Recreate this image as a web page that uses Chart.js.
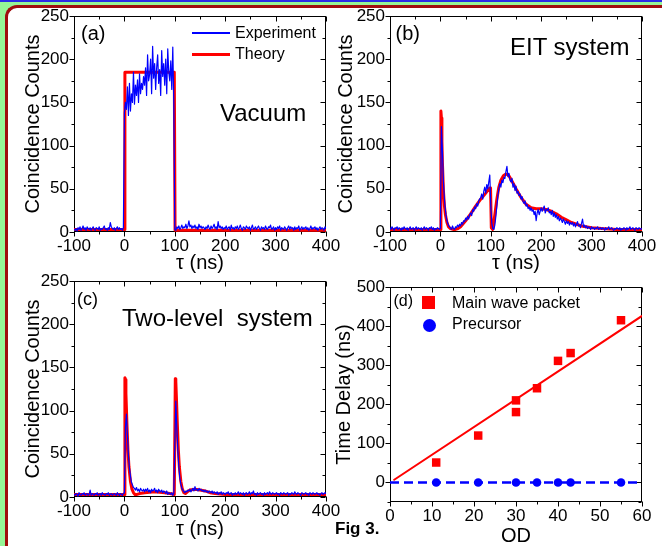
<!DOCTYPE html>
<html><head><meta charset="utf-8">
<script src="https://cdn.jsdelivr.net/npm/chart.js@4.4.1/dist/chart.umd.min.js"></script>
<style>
html,body{margin:0;padding:0;}
body{width:662px;height:546px;overflow:hidden;position:relative;background:#96f596;font-family:"Liberation Sans",Arial,sans-serif;}
#topline{position:absolute;left:0;top:0;width:662px;height:2px;background:#2b2be6;}
#sheet{position:absolute;left:5px;top:4.5px;width:700px;height:600px;background:#fff;border-left:3px solid #a00d0d;border-top:3px solid #a00d0d;border-top-left-radius:12px;}
canvas{position:absolute;left:0;top:0;}
.t{position:absolute;white-space:pre;line-height:1;color:#000;}
.sw{position:absolute;}
</style></head><body>
<div id="topline"></div>
<div id="sheet"></div>
<canvas id="ca" width="662" height="546"></canvas>
<canvas id="cb" width="662" height="546"></canvas>
<canvas id="cc" width="662" height="546"></canvas>
<canvas id="cd" width="662" height="546"></canvas>

<div class="t" style="left:81px;top:22.5px;font-size:20px">(a)</div>
<div class="sw" style="left:192px;top:32.3px;width:38px;height:1.5px;background:#0000ff"></div>
<div class="t" style="left:235px;top:25.3px;font-size:16px">Experiment</div>
<div class="sw" style="left:192px;top:52.5px;width:38px;height:3px;background:#ff0000"></div>
<div class="t" style="left:235px;top:46.3px;font-size:16px">Theory</div>
<div class="t" style="left:220px;top:101.4px;font-size:24px">Vacuum</div>

<div class="t" style="left:395.5px;top:22.5px;font-size:20px">(b)</div>
<div class="t" style="left:510px;top:34.7px;font-size:24px">EIT system</div>

<div class="t" style="left:77px;top:290px;font-size:18px">(c)</div>
<div class="t" style="left:122px;top:305.7px;font-size:24px">Two-level  system</div>

<div class="t" style="left:393.5px;top:293.2px;font-size:16px">(d)</div>
<div class="sw" style="left:422px;top:296px;width:13px;height:13px;background:#ff0000"></div>
<div class="t" style="left:452px;top:295.3px;font-size:16px">Main wave packet</div>
<div class="sw" style="left:422.5px;top:319px;width:13px;height:13px;border-radius:50%;background:#0000ff"></div>
<div class="t" style="left:452px;top:316px;font-size:16px">Precursor</div>

<div class="t" style="left:335px;top:520px;font-size:17px;font-weight:bold">Fig 3.</div>

<script>
// ---------- tick labels ----------
const tauTicks = [-100, 0, 100, 200, 300, 400];
const countTicks = [0, 50, 100, 150, 200, 250];
const odTicks = [0, 10, 20, 30, 40, 50, 60];
const delayTicks = [0, 100, 200, 300, 400, 500];

// ---------- experiment traces (2 ns bins from -100 ns) ----------
const expStart = -100, expStep = 2;
const expVacuum = [
 3,2,4,1,5,3,6,2,4,7, 3,5,2,6,4,3,5,2,4,6, 3,2,5,4,3,6,2,4,3,5, 7,3,4,2,5,3,11,6,4,3, 5,2,4,6,3,5,3,4,2,5,
 138,150,142,168,135,172,140,160,150,185, 148,170,158,176,150,183,160,172,165,180,
 170,190,158,205,175,182,200,160,215,178, 195,165,190,205,172,188,158,210,180,195,
 170,200,160,212,185,175,198,165,214,150,
 3,2,6,4,7,3,5,8,4,6, 5,9,4,7,13,6,8,4,7,5, 8,4,6,3,9,5,7,4,6,5, 3,6,4,8,5,3,7,4,6,9, 4,6,3,12,5,7,4,6,3,5,
 4,7,3,5,6,2,8,4,5,3, 6,4,7,3,5,8,4,2,6,5, 3,7,5,4,6,2,5,8,3,4, 6,3,5,7,4,2,6,4,5,3, 7,4,3,6,5,8,3,4,6,2,
 5,3,6,4,7,2,5,4,3,6, 4,2,5,7,3,6,4,5,2,6, 3,5,4,7,2,4,6,3,5,4, 6,3,5,2,4,7,3,5,4,6, 3,5,2,4,6,3,5,4,2,6, 4
];
const expEIT = [
 5,3,6,4,2,5,4,6,3,5, 4,2,5,3,6,4,3,5,2,4, 6,3,4,5,2,4,6,3,5,4, 3,5,2,4,6,3,5,4,2,5, 4,6,3,5,2,4,3,5,4,3,
 4,122,95,58,38,25,16,11,8,6, 5,3,7,4,3,6,5,8,6,9, 7,11,9,13,12,16,14,18,15,20,
 22,19,26,24,29,27,33,30,36,38, 40,44,38,47,52,45,55,50,58,66,
 30,10,4,3,8,18,30,42,50,56, 52,60,57,63,62,70,76,64,68,60, 58,62,52,56,48,53,45,47,42,44,
 38,41,35,33,36,30,32,27,29,25, 28,24,26,20,24,13,22,26,20,24,
 28,24,27,30,22,26,25,28,22,24, 20,25,18,22,17,20,15,18,13,16, 14,11,15,12,9,13,10,12,8,11,
 9,11,7,10,6,9,12,7,8,5, 10,15,6,8,5,7,4,6,5,3,
 6,4,5,3,5,4,6,3,4,5, 3,5,4,2,5,3,4,6,3,4, 5,3,2,4,3,5,4,3,5,2, 4,3,5,4,2,5,3,4,6,3, 4,5,3,2,5,4,3,5,4,3, 4
];
const expTwoLevel = [
 3,2,4,3,1,5,3,2,4,3, 5,2,3,4,2,3,8,2,4,3, 2,4,3,5,2,3,4,2,5,3, 3,2,4,3,5,2,3,4,2,3, 4,3,2,5,3,2,4,3,2,4,
 5,80,96,72,48,34,24,17,14,11, 10,8,11,7,9,6,10,8,7,9, 6,9,7,10,6,8,5,9,7,8, 10,6,8,5,9,7,6,8,5,7, 6,4,7,3,5,4,3,5,2,4,
 60,111,80,55,35,22,15,10,8,6, 5,7,6,8,7,9,6,8,10,7, 12,8,9,7,10,8,9,7,8,6, 8,6,7,5,7,6,5,7,4,6, 5,4,6,3,5,4,6,3,5,4,
 3,5,4,6,3,4,5,2,4,3, 5,3,4,6,3,5,4,3,5,2, 4,5,3,4,6,3,5,4,7,3, 4,2,5,3,4,5,3,4,2,5, 3,4,5,3,6,4,3,5,4,3,
 4,5,3,4,2,5,4,3,5,4, 3,4,5,2,4,3,5,4,3,6, 4,3,5,4,3,2,5,4,3,4, 5,3,4,2,5,4,3,5,4,3, 4,5,3,4,2,4,5,3,4,5, 4
];

// ---------- theory curves ----------
const thVacuumTau = [-100, 0, 1, 99, 100.5, 400];
const thVacuum    = [3, 3, 185, 185, 2, 2];
const thEITTau = [-100,0,1,2,3,4,6,8,10,13, 16,20,25,30,35,40,50,60,70,80, 90,95,98,99.5,101,104,108,112,116,120,
                  125,130,135,140,150,160,170,180,190,200, 210,220,230,240,250,260,270,280,300,320, 350,400];
const thEIT    = [3,3,140,132,105,80,48,30,20,11, 6,4,3,3,4,6,13,21,30,38, 45,49,51,51,5,3,20,38,52,60,
                  65,67,66,61,50,40,32,28,27,27, 26,24,21,17,14,11,9,7,5,4, 3,3];
const thTwoTau = [-100,0,1,2,3,5,7,9,12,15, 18,21,25,30,40,60,80,90,99,100, 101,102,103,105,107,109,112,115,118,121,
                  125,130,140,150,160,170,180,200,250,400];
const thTwo    = [3,3,138,136,120,85,55,35,18,9, 5,3,3,4,5,6,5,4,3,3, 137,134,118,85,55,35,18,9,5,4,
                  6,8,9,8,7,5,4,3,3,3];

// ---------- panel (d) ----------
const odMain    = [11, 21, 30, 30, 35, 40, 43, 55];
const delayMain = [51, 120, 210, 180, 241, 311, 331, 415];
const odPre     = [11, 21, 30, 35, 40, 43, 55];
const delayPre  = [0, 0, 0, 0, 0, 0, 0];
const fitOD     = [1, 60];
const fitDelay  = [7, 426];
const zeroOD    = [0, 60];
const zeroDelay = [0, 0];

// ---------- helpers ----------
const pts = (xs, ys) => xs.map((x, i) => ({x, y: ys[i]}));
const expPts = ys => ys.map((y, i) => ({x: expStart + i * expStep, y}));
const FONT = '"Liberation Sans", Arial, sans-serif';
const RED = '#ff0000', BLUE = '#0000ff';

const boxTicks = {
  id: 'boxTicks',
  beforeDatasetsDraw(chart, args, o) {
    const {ctx, chartArea: a, scales: {x, y}} = chart;
    ctx.save();
    ctx.strokeStyle = '#000';
    ctx.lineWidth = 1;
    const L = Math.round(a.left) + 0.5, R = Math.round(a.right) - 0.5;
    const T = Math.round(a.top) + 0.5, B = Math.round(a.bottom) - 0.5;
    ctx.strokeRect(L, T, R - L, B - T);
    const isMajor = (v, base, step) => { const r = (v - base) / step; return Math.abs(r - Math.round(r)) < 1e-6; };
    ctx.beginPath();
    for (let v = x.min; v <= x.max + 1e-9; v += o.xMinor) {
      const p = Math.round(x.getPixelForValue(v)) + 0.5;
      const len = isMajor(v, o.xBase, o.xMajor) ? 5 : 3;
      ctx.moveTo(p, B); ctx.lineTo(p, B + len);
      ctx.moveTo(p, T); ctx.lineTo(p, T + len);
    }
    for (let v = y.min; v <= y.max + 1e-9; v += o.yMinor) {
      const p = Math.round(y.getPixelForValue(v)) + 0.5;
      const len = isMajor(v, o.yBase, o.yMajor) ? 5 : 3;
      ctx.moveTo(L, p); ctx.lineTo(L - len, p);
      ctx.moveTo(R, p); ctx.lineTo(R - len, p);
    }
    ctx.stroke();
    ctx.restore();
  }
};

function panel(id, g, xr, yr, xTickVals, yTickVals, datasets, xTitle, yTitle, tk) {
  return new Chart(document.getElementById(id), {
    type: 'scatter',
    data: {datasets},
    options: {
      responsive: false, animation: false, events: [],
      layout: {padding: {left: g.PL, top: g.T, right: 662 - g.R, bottom: 546 - g.SB}},
      plugins: {legend: {display: false}, tooltip: {enabled: false}, boxTicks: tk},
      scales: {
        x: {
          type: 'linear', position: 'bottom', min: xr[0], max: xr[1],
          afterBuildTicks: s => { s.ticks = xTickVals.map(v => ({value: v})); },
          ticks: {font: {family: FONT, size: 17}, color: '#000', padding: 4, maxRotation: 0, autoSkip: false},
          grid: {display: false, drawTicks: false}, border: {display: false},
          title: {display: true, text: xTitle, color: '#000', font: {family: FONT, size: 20, lineHeight: 1}, padding: {top: 0, bottom: 0}},
          afterFit: s => { s.height = g.SB - g.B; }
        },
        y: {
          type: 'linear', position: 'left', min: yr[0], max: yr[1],
          afterBuildTicks: s => { s.ticks = yTickVals.map(v => ({value: v})); },
          ticks: {font: {family: FONT, size: 17}, color: '#000', padding: 5, autoSkip: false},
          grid: {display: false, drawTicks: false}, border: {display: false},
          title: {display: true, text: yTitle, color: '#000', font: {family: FONT, size: 20, lineHeight: 1}, padding: {top: 0, bottom: 0}},
          afterFit: s => { s.width = g.L - g.PL; }
        }
      }
    },
    plugins: [boxTicks]
  });
}

const lineDs = (data, color, w) => ({data, showLine: true, borderColor: color, borderWidth: w, pointRadius: 0, fill: false, tension: 0,
  borderJoinStyle: 'round', borderCapStyle: 'round'});
const tkTau = {xBase: 0, xMajor: 100, xMinor: 50, yBase: 0, yMajor: 50, yMinor: 25};

panel('ca', {PL: 23.5, L: 74, R: 326, T: 16, B: 232, SB: 273}, [-100, 400], [0, 250], tauTicks, countTicks,
  [lineDs(expPts(expVacuum), BLUE, 1.2), lineDs(pts(thVacuumTau, thVacuum), RED, 3)],
  'τ (ns)', 'Coincidence Counts', tkTau);

panel('cb', {PL: 336.3, L: 390, R: 642, T: 16, B: 232, SB: 273}, [-100, 400], [0, 250], tauTicks, countTicks,
  [lineDs(expPts(expEIT), BLUE, 1.2), lineDs(pts(thEITTau, thEIT), RED, 3)],
  'τ (ns)', 'Coincidence Counts', tkTau);

panel('cc', {PL: 23.5, L: 74, R: 326, T: 281, B: 497, SB: 539}, [-100, 400], [0, 250], tauTicks, countTicks,
  [lineDs(expPts(expTwoLevel), BLUE, 1.2), lineDs(pts(thTwoTau, thTwo), RED, 3)],
  'τ (ns)', 'Coincidence Counts', tkTau);

panel('cd', {PL: 334.3, L: 390, R: 642, T: 287, B: 502, SB: 546}, [0, 60], [-50, 500], odTicks, delayTicks,
  [
    {data: pts(odMain, delayMain), pointStyle: 'rect', pointRadius: 6, pointBackgroundColor: RED, pointBorderWidth: 0, showLine: false},
    {data: pts(odPre, delayPre), pointStyle: 'circle', pointRadius: 4.3, pointBackgroundColor: BLUE, pointBorderWidth: 0, showLine: false},
    lineDs(pts(fitOD, fitDelay), RED, 2),
    Object.assign(lineDs(pts(zeroOD, zeroDelay), BLUE, 2.5), {borderDash: [9, 5], borderCapStyle: 'butt'})
  ],
  'OD', 'Time Delay (ns)', {xBase: 0, xMajor: 10, xMinor: 5, yBase: 0, yMajor: 100, yMinor: 50});
</script>
</body></html>
